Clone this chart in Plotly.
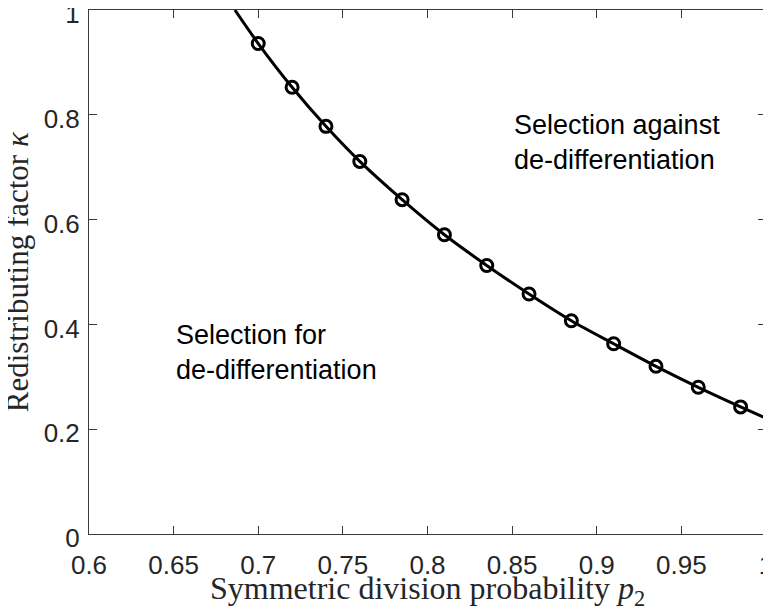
import plotly.graph_objects as go

# Boundary curve
p2_curve = [0.6862, 0.70, 0.72, 0.74, 0.76, 0.785, 0.81, 0.835, 0.86, 0.885, 0.91, 0.935, 0.96, 0.985, 1.0]
kappa_curve = [1.0, 0.936, 0.8525, 0.778, 0.711, 0.638, 0.571, 0.5125, 0.458, 0.407, 0.363, 0.320, 0.280, 0.2426, 0.221]

# Circle markers (simulation points)
p2_markers = [0.70, 0.72, 0.74, 0.76, 0.785, 0.81, 0.835, 0.86, 0.885, 0.91, 0.935, 0.96, 0.985]
kappa_markers = [0.936, 0.8525, 0.778, 0.711, 0.638, 0.571, 0.5125, 0.458, 0.407, 0.363, 0.320, 0.280, 0.2426]

x_ticks = [0.6, 0.65, 0.7, 0.75, 0.8, 0.85, 0.9, 0.95, 1.0]
x_tick_labels = ["0.6", "0.65", "0.7", "0.75", "0.8", "0.85", "0.9", "0.95", "1"]
y_ticks = [0, 0.2, 0.4, 0.6, 0.8, 1.0]
y_tick_labels = ["0", "0.2", "0.4", "0.6", "0.8", "1"]

region_labels = ["Selection for<br>de-differentiation", "Selection against<br>de-differentiation"]
region_x = [0.65, 0.85]
region_y = [0.346, 0.747]

axis_col = "#3a3a3a"
sans = "Liberation Sans, Arial, Helvetica, sans-serif"
serif = "Liberation Serif, Times New Roman, serif"

fig = go.Figure()
fig.add_trace(go.Scatter(
    x=p2_curve, y=kappa_curve, mode="lines",
    line=dict(color="black", width=3, shape="spline", smoothing=0.8),
    showlegend=False, hoverinfo="skip",
))
fig.add_trace(go.Scatter(
    x=p2_markers, y=kappa_markers, mode="markers",
    marker=dict(symbol="circle-open", size=12, color="black", line=dict(width=3, color="black")),
    showlegend=False,
))

for txt, xx, yy in zip(region_labels, region_x, region_y):
    fig.add_annotation(
        x=xx, y=yy, xref="x", yref="y", text=txt, showarrow=False,
        xanchor="left", yanchor="middle", align="left",
        font=dict(family=sans, size=27, color="black"),
    )

# Axis titles
fig.add_annotation(
    x=0.5, y=-0.108, xref="paper", yref="paper",
    text="Symmetric division probability <i>p</i><sub>2</sub>",
    showarrow=False, xanchor="center", yanchor="middle",
    font=dict(family=serif, size=32, color="#262626"),
)
fig.add_annotation(
    x=-0.106, y=0.5, xref="paper", yref="paper",
    text="Redistributing factor <i>κ</i>", textangle=-90,
    showarrow=False, xanchor="center", yanchor="middle",
    font=dict(family=serif, size=31, color="#262626"),
)

fig.update_xaxes(
    range=[0.6, 1.0], tickvals=x_ticks, ticktext=x_tick_labels,
    ticks="inside", ticklen=8, tickwidth=1, tickcolor=axis_col,
    showline=True, linecolor=axis_col, linewidth=1, mirror="ticks",
    showgrid=False, zeroline=False, automargin=False,
    ticklabeloverflow="allow", ticklabelstandoff=8,
    tickfont=dict(family=sans, size=26, color="#262626"),
)
fig.update_yaxes(
    range=[0, 1.0], tickvals=y_ticks, ticktext=y_tick_labels,
    ticks="inside", ticklen=8, tickwidth=1, tickcolor=axis_col,
    showline=True, linecolor=axis_col, linewidth=1, mirror="ticks",
    showgrid=False, zeroline=False, automargin=False,
    ticklabeloverflow="allow", ticklabelstandoff=3, ticklabelshift=4,
    tickfont=dict(family=sans, size=26, color="#262626"),
)

# page body has an 8px default margin, so the margins compensate for it
fig.update_layout(
    width=771, height=616,
    margin=dict(l=81, r=13, t=2, b=90),
    paper_bgcolor="white", plot_bgcolor="white",
)

fig.write_html("out.html")
